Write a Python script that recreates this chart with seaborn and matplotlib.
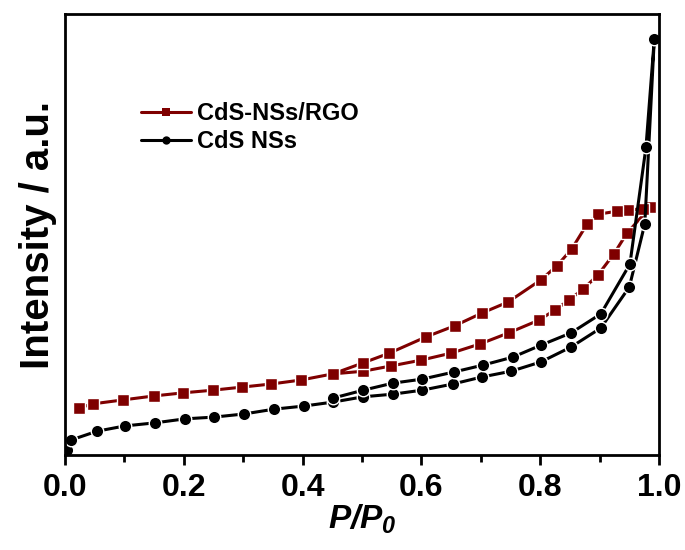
import numpy as np
import pandas as pd
import matplotlib
matplotlib.use('Agg')
from matplotlib import pyplot as plt
import seaborn as sns

# CdS-NSs/RGO: adsorption branch then desorption branch
rgo_p = [0.024, 0.047, 0.098, 0.150, 0.199, 0.249, 0.298, 0.347, 0.397, 0.451,
         0.502, 0.549, 0.599, 0.650, 0.699, 0.747, 0.798, 0.825, 0.848, 0.872,
         0.897, 0.924, 0.946, 0.985,
         0.973, 0.947, 0.930, 0.897, 0.879, 0.853, 0.828, 0.801, 0.746, 0.702,
         0.656, 0.608, 0.546, 0.502, 0.451]
rgo_i = [10.7, 11.6, 12.5, 13.4, 14.1, 14.7, 15.4, 16.1, 17.0, 18.4,
         19.0, 20.2, 21.5, 23.1, 25.2, 27.7, 30.6, 32.9, 35.1, 37.6,
         40.8, 45.6, 50.3, 56.2,
         55.8, 55.6, 55.3, 54.6, 52.4, 46.7, 42.9, 39.7, 34.7, 32.2,
         29.3, 26.8, 23.1, 20.9, 18.4]

# CdS NSs
cds_p = [0.004, 0.010, 0.054, 0.101, 0.152, 0.202, 0.251, 0.301, 0.352, 0.402,
         0.451, 0.502, 0.552, 0.601, 0.653, 0.702, 0.751, 0.801, 0.852, 0.902,
         0.950, 0.976, 0.992,
         0.978, 0.951, 0.902, 0.852, 0.801, 0.754, 0.704, 0.654, 0.601, 0.552,
         0.502, 0.451]
cds_i = [1.2, 3.4, 5.4, 6.6, 7.3, 8.2, 8.6, 9.3, 10.4, 11.1,
         12.0, 13.2, 13.8, 14.7, 16.1, 17.7, 19.0, 21.1, 24.5, 28.8,
         38.1, 52.4, 94.3,
         69.8, 43.3, 32.0, 27.7, 24.9, 22.2, 20.4, 18.8, 17.2, 16.3,
         14.7, 12.9]

labels = ['CdS-NSs/RGO', 'CdS NSs']

sns.set_style('ticks')
plt.rcParams['font.family'] = ['Liberation Sans', 'DejaVu Sans']
plt.rcParams['font.weight'] = 'bold'
plt.rcParams['text.color'] = 'black'
plt.rcParams['axes.labelcolor'] = 'black'
plt.rcParams['axes.edgecolor'] = 'black'
plt.rcParams['xtick.color'] = 'black'
plt.rcParams['mathtext.fontset'] = 'custom'
plt.rcParams['mathtext.it'] = 'Liberation Sans:italic:bold'
plt.rcParams['mathtext.rm'] = 'Liberation Sans:italic:bold'

fig = plt.figure(figsize=(6.85, 5.5), dpi=100)
ax = fig.add_axes([0.0949, 0.1727, 0.8672, 0.8018])

df_rgo = pd.DataFrame({'P': rgo_p, 'I': rgo_i})
df_cds = pd.DataFrame({'P': cds_p, 'I': cds_i})

sns.lineplot(data=df_rgo, x='P', y='I', sort=False, estimator=None, ax=ax,
             color='#7f0000', lw=2.2, marker='s', ms=8.5, mec='white', mew=1.0,
             label=labels[0])
sns.lineplot(data=df_cds, x='P', y='I', sort=False, estimator=None, ax=ax,
             color='black', lw=2.2, marker='o', ms=9, mec='white', mew=1.0,
             label=labels[1])

ax.set_xlim(0, 1.0)
ax.set_ylim(0, 100)
ax.set_xticks(np.arange(0, 1.01, 0.2))
ax.set_xticks(np.arange(0.1, 1.0, 0.2), minor=True)
ax.set_xticklabels(['0.0', '0.2', '0.4', '0.6', '0.8', '1.0'],
                   fontsize=23, fontweight='bold')
ax.tick_params(axis='x', which='major', direction='out', length=7, width=2, pad=6)
ax.tick_params(axis='x', which='minor', direction='out', length=5, width=2)
ax.set_yticks([])
for s in ax.spines.values():
    s.set_linewidth(2)
    s.set_visible(True)

ax.set_xlabel(r'$P/P_0$', fontsize=24, labelpad=0)
ax.set_ylabel('Intensity / a.u.', fontsize=29, fontweight='bold', labelpad=6)

leg = ax.legend(loc='upper left', bbox_to_anchor=(0.128, 0.80), frameon=False,
                fontsize=17, handlelength=2.1, handletextpad=0.25,
                labelspacing=0.22, borderpad=0, borderaxespad=0)
for t in leg.get_texts():
    t.set_fontweight('bold')
for h in leg.legend_handles:
    h.set_markersize(6)
    h.set_markeredgewidth(0)

fig.savefig('out.png', dpi=100)
